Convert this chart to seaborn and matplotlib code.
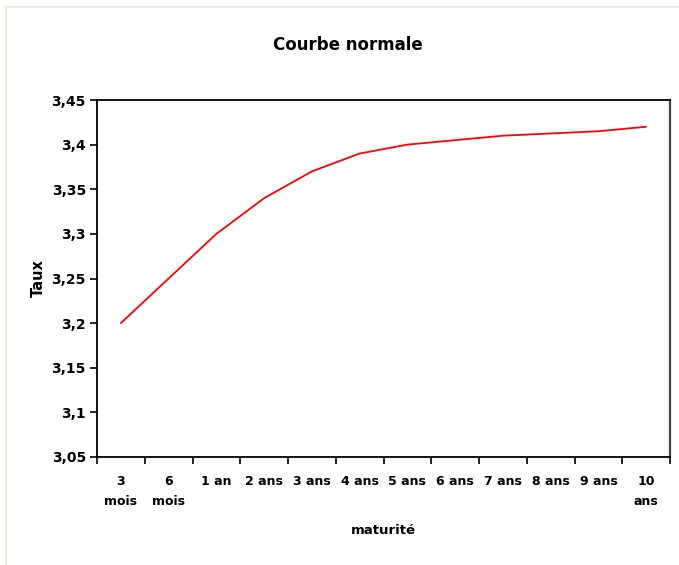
import numpy as np
import pandas as pd
import matplotlib
matplotlib.use("Agg")
import matplotlib.pyplot as plt
import seaborn as sns
from matplotlib.lines import Line2D
from matplotlib.ticker import FixedLocator, FuncFormatter

categories = ["3\nmois", "6\nmois", "1 an", "2 ans", "3 ans", "4 ans", "5 ans",
              "6 ans", "7 ans", "8 ans", "9 ans", "10\nans"]
taux = [3.20, 3.25, 3.30, 3.34, 3.37, 3.39, 3.40, 3.405, 3.41, 3.4125, 3.415, 3.42]
y_ticks = [3.05, 3.10, 3.15, 3.20, 3.25, 3.30, 3.35, 3.40, 3.45]

sns.set_theme(style="white")
plt.rcParams['font.family'] = ['DejaVu Sans']
plt.rcParams['text.color'] = 'black'
plt.rcParams['xtick.color'] = 'black'
plt.rcParams['ytick.color'] = 'black'
plt.rcParams['axes.labelcolor'] = 'black'

df = pd.DataFrame({"pos": np.arange(len(categories)), "taux": taux})

fig = plt.figure(figsize=(6.79, 5.65), dpi=100)
fig.patch.set_facecolor("white")
ax = fig.add_axes([97/679, 1 - 457/565, (670 - 97)/679, (457 - 100)/565])
ax.set_facecolor("white")

sns.lineplot(data=df, x="pos", y="taux", ax=ax, color="#ff0000", linewidth=1.3)

n = len(categories)
ax.set_xlim(-0.5, n - 0.5)
ax.set_ylim(3.05, 3.45)
ax.set_yticks(y_ticks)
ax.yaxis.set_major_formatter(FuncFormatter(lambda v, p: f"{v:.2f}".rstrip("0").rstrip(".").replace(".", ",")))

ax.set_xticks(np.arange(n))
ax.set_xticklabels(categories, fontsize=9, fontweight="bold", linespacing=1.65, color="black")
ax.xaxis.set_minor_locator(FixedLocator(np.arange(n + 1) - 0.5))
ax.tick_params(axis="x", which="major", length=0, pad=13)
ax.tick_params(axis="x", which="minor", length=5, width=1.2, color="black", direction="out", bottom=True)
ax.tick_params(axis="y", which="major", length=5, width=1.2, color="black", direction="out", left=True, pad=3)
for lab in ax.get_yticklabels():
    lab.set_fontsize(10)
    lab.set_fontweight("bold")
    lab.set_color("black")

for s in ax.spines.values():
    s.set_visible(True)
    s.set_color("black")
    s.set_linewidth(1.3)
ax.spines["right"].set_color("#444444")
ax.spines["right"].set_linewidth(1.6)

ax.set_xlabel("")
ax.set_ylabel("")
fig.text(38/679, 1 - 278/565, "Taux", rotation=90, ha="center", va="center",
         fontsize=10.5, fontweight="bold", color="black")
fig.text(383/679, 1 - 530/565, "maturité", ha="center", va="center",
         fontsize=9.5, fontweight="bold", color="black")
fig.text(348/679, 1 - 45/565, "Courbe normale", ha="center", va="center",
         fontsize=12, fontweight="bold", color="black")

fig.add_artist(Line2D([5/679, 1], [1 - 6.5/565, 1 - 6.5/565], transform=fig.transFigure,
                      color="#ebe8dc", linewidth=1.5))
fig.add_artist(Line2D([5.5/679, 5.5/679], [0, 1 - 6.5/565], transform=fig.transFigure,
                      color="#ebe8dc", linewidth=1.5))

fig.savefig("out.png", dpi=100)
